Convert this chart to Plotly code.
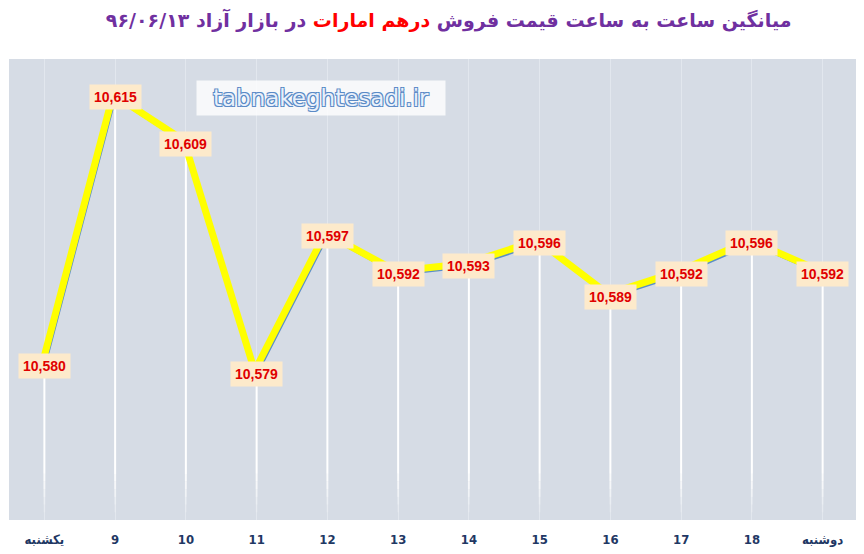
import plotly.graph_objs as go

# hourly average selling price of the UAE dirham, free market, 96/06/13
categories = ["یکشنبه", "9", "10", "11", "12", "13", "14", "15", "16", "17", "18", "دوشنبه"]
prices = [10580, 10615, 10609, 10579, 10597, 10592, 10593, 10596, 10589, 10592, 10596, 10592]
y_min, y_max = 10560, 10620

xs = list(range(len(categories)))
fig = go.Figure()

# white drop lines fading out near the bottom
fades = [(10566, 1.0), (10565, 0.85), (10564, 0.7), (10563, 0.5), (10562, 0.3), (10561, 0.15)]
for x, v in zip(xs, prices):
    top = v
    for bottom, op in fades:
        fig.add_trace(go.Scatter(x=[x, x], y=[top, bottom], mode="lines",
                                 line=dict(color="white", width=2), opacity=op,
                                 hoverinfo="skip", showlegend=False))
        top = bottom

# the series line
fig.add_trace(go.Scatter(x=xs, y=prices, mode="lines",
                         line=dict(color="#5b8fc7", width=3),
                         showlegend=False, hoverinfo="skip"))
# yellow glow slightly up-left of it (offset axes)
fig.add_trace(go.Scatter(x=xs, y=prices, mode="lines", xaxis="x2", yaxis="y2",
                         line=dict(color="#ffff00", width=7),
                         showlegend=False, hoverinfo="skip"))

for x, v in zip(xs, prices):
    fig.add_annotation(x=x, y=v, text="<b>{:,}</b>".format(v), showarrow=False,
                       xanchor="center", yanchor="middle",
                       bgcolor="#fdeacb", borderpad=4,
                       font=dict(family="Liberation Sans", size=14, color="#e00000"))

outline = "#5a8ac6"
fig.add_annotation(xref="paper", yref="paper", x=0.367, y=0.954,
                   text="tabnakeghtesadi.ir", showarrow=False,
                   width=246, height=32, bgcolor="rgba(255,255,255,0.8)",
                   font=dict(family="DejaVu Sans", size=23, color="#e8f0fb",
                             shadow="1px 1px 0 {0}, -1px -1px 0 {0}, 1px -1px 0 {0}, -1px 1px 0 {0}".format(outline)))

title = ("<b>میانگین ساعت به ساعت قیمت فروش "
         "<span style='color:#ff0000'>درهم امارات</span>"
         " در بازار آزاد ۹۶/۰۶/۱۳</b>")

dx = 2 / 70.75
dy = 3 / 7.68
# page body adds 8px offset, margins compensate
fig.update_layout(
    width=864, height=554,
    margin=dict(l=1, r=14, t=51, b=42),
    paper_bgcolor="white",
    plot_bgcolor="#d6dce5",
    title=dict(text=title, x=0.51, xanchor="center", y=0.978, yanchor="middle",
               font=dict(family="DejaVu Sans", size=19, color="#7030a0")),
    xaxis=dict(range=[-0.5, len(categories) - 0.5], tickvals=xs, ticktext=categories,
               showgrid=True, gridcolor="#e2e7ee", gridwidth=1, zeroline=False,
               showline=False, ticks="", ticklabelstandoff=10,
               tickfont=dict(family="Liberation Sans Narrow, DejaVu Sans Condensed",
                             size=13, color="#1f3864", weight="bold")),
    yaxis=dict(range=[y_min, y_max], visible=False, showgrid=False),
    xaxis2=dict(overlaying="x", range=[-0.5 + dx, len(categories) - 0.5 + dx], visible=False),
    yaxis2=dict(overlaying="y", range=[y_min - dy, y_max - dy], visible=False),
)

fig.write_html("out.html")
